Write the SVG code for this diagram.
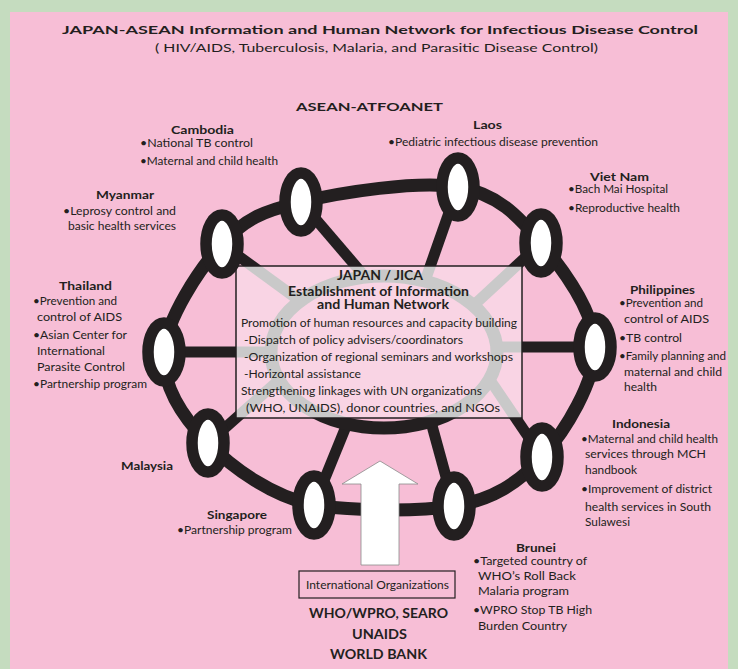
<svg xmlns="http://www.w3.org/2000/svg" xmlns:xlink="http://www.w3.org/1999/xlink" width="738" height="669" viewBox="0 0 738 669">
  <style>
    .t { font-family: Lato, "Liberation Sans", sans-serif; font-size: 12px; fill: #231f20; }
    .b { font-weight: bold; }
    .h { font-size: 13px; }
    .ring { fill: none; stroke: #231f20; stroke-width: 13; stroke-linejoin: round; }
    .spk { fill: none; stroke-width: 11; }
    .hub { fill: none; stroke-width: 13; }
    .node { fill: #ffffff; stroke: #231f20; stroke-width: 11.5; }
  </style>
  <defs>
    <clipPath id="boxClip">
      <rect x="236" y="266" width="286" height="152"/>
    </clipPath>
  </defs>

  <!-- page background -->
  <rect x="0" y="0" width="738" height="669" fill="#c5dcbf"/>
  <rect x="10" y="12" width="718" height="657" fill="#f7bed6"/>

  <!-- headings -->
  <g id="heading">
    <text class="t b" x="62" y="34" font-size="17" textLength="636" lengthAdjust="spacingAndGlyphs">JAPAN-ASEAN Information and Human Network for Infectious Disease Control</text>
    <text class="t" x="155" y="52" font-size="15" textLength="443" lengthAdjust="spacingAndGlyphs">( HIV/AIDS, Tuberculosis, Malaria, and Parasitic Disease Control)</text>
    <text class="t b" x="296" y="111" font-size="19" textLength="147" lengthAdjust="spacingAndGlyphs">ASEAN-ATFOANET</text>
  </g>

  <!-- network ring, spokes and inner hub -->
  <g id="connectors">
    <path class="ring" d="M164,352 C166.3,318.8 199.2,269 222,244 C244.8,219 261.7,211.5 301,202 C340.3,192.5 418,180.2 458,187 C498,193.8 518.2,215.8 541,243 C563.8,270.2 594.8,312 595,347 C595.2,382 565.5,430.7 542,457 C518.5,483.3 492,500 454,506 C416,512 355,511 314,505 C273,497 233,468.5 208,443 C183,417.5 161.7,385.2 164,352 Z"/>
    <g stroke="#231f20">
      <g id="hubLines">
        <line class="spk" x1="164" y1="352" x2="272" y2="352"/>
        <line class="spk" x1="222" y1="244" x2="300" y2="301"/>
        <line class="spk" x1="301" y1="202" x2="366" y2="278"/>
        <line class="spk" x1="458" y1="187" x2="425" y2="281"/>
        <line class="spk" x1="541" y1="243" x2="474" y2="305"/>
        <line class="spk" x1="595" y1="347" x2="497" y2="347"/>
        <line class="spk" x1="542" y1="457" x2="490" y2="380"/>
        <line class="spk" x1="454" y1="506" x2="431" y2="422"/>
        <line class="spk" x1="314" y1="505" x2="347" y2="424"/>
        <line class="spk" x1="208" y1="443" x2="279" y2="380"/>
        <ellipse class="hub" cx="384" cy="352" rx="113" ry="76"/>
      </g>
    </g>
  </g>

  <!-- central JAPAN / JICA box -->
  <g id="jica">
    <rect x="236" y="266" width="286" height="152" fill="#f9d4e4"/>
    <g clip-path="url(#boxClip)" stroke="#c9c9c9">
      <use xlink:href="#hubLines" href="#hubLines"/>
    </g>
    <rect x="236" y="266" width="286" height="152" fill="none" stroke="#231f20" stroke-width="1.5"/>
    <text class="t b h" x="337" y="280" textLength="86" lengthAdjust="spacingAndGlyphs">JAPAN / JICA</text>
    <text class="t b h" x="288" y="296" textLength="181" lengthAdjust="spacingAndGlyphs">Establishment of Information</text>
    <text class="t b h" x="317" y="309" textLength="132" lengthAdjust="spacingAndGlyphs">and Human Network</text>
    <text class="t" x="241" y="327" textLength="276" lengthAdjust="spacingAndGlyphs">Promotion of human resources and capacity building</text>
    <text class="t" x="244" y="344" textLength="219" lengthAdjust="spacingAndGlyphs">-Dispatch of policy advisers/coordinators</text>
    <text class="t" x="244" y="361" textLength="269" lengthAdjust="spacingAndGlyphs">-Organization of regional seminars and workshops</text>
    <text class="t" x="244" y="378" textLength="117" lengthAdjust="spacingAndGlyphs">-Horizontal assistance</text>
    <text class="t" x="241" y="395" textLength="241" lengthAdjust="spacingAndGlyphs">Strengthening linkages with UN organizations</text>
    <text class="t" x="246" y="412" textLength="254" lengthAdjust="spacingAndGlyphs">(WHO, UNAIDS), donor countries, and NGOs</text>
  </g>

  <!-- member countries -->
  <g id="thailand">
    <ellipse class="node" cx="164" cy="352" rx="16" ry="29"/>
    <text class="t b" x="59" y="290" textLength="53" lengthAdjust="spacingAndGlyphs">Thailand</text>
    <text class="t" x="33" y="305" textLength="84" lengthAdjust="spacingAndGlyphs">•Prevention and</text>
    <text class="t" x="37" y="321" textLength="85" lengthAdjust="spacingAndGlyphs">control of AIDS</text>
    <text class="t" x="33" y="339" textLength="94" lengthAdjust="spacingAndGlyphs">•Asian Center for</text>
    <text class="t" x="37" y="355" textLength="68" lengthAdjust="spacingAndGlyphs">International</text>
    <text class="t" x="37" y="371" textLength="88" lengthAdjust="spacingAndGlyphs">Parasite Control</text>
    <text class="t" x="33" y="388" textLength="114" lengthAdjust="spacingAndGlyphs">•Partnership program</text>
  </g>
  <g id="myanmar">
    <ellipse class="node" cx="222" cy="244" rx="16" ry="29"/>
    <text class="t b" x="96" y="199" textLength="58" lengthAdjust="spacingAndGlyphs">Myanmar</text>
    <text class="t" x="63" y="215" textLength="113" lengthAdjust="spacingAndGlyphs">•Leprosy control and</text>
    <text class="t" x="68" y="230" textLength="108" lengthAdjust="spacingAndGlyphs">basic health services</text>
  </g>
  <g id="cambodia">
    <ellipse class="node" cx="301" cy="202" rx="16" ry="29"/>
    <text class="t b" x="171" y="134" textLength="63" lengthAdjust="spacingAndGlyphs">Cambodia</text>
    <text class="t" x="140" y="147" textLength="113" lengthAdjust="spacingAndGlyphs">•National TB control</text>
    <text class="t" x="140" y="165" textLength="138" lengthAdjust="spacingAndGlyphs">•Maternal and child health</text>
  </g>
  <g id="laos">
    <ellipse class="node" cx="458" cy="187" rx="16" ry="29"/>
    <text class="t b" x="473" y="129" textLength="29" lengthAdjust="spacingAndGlyphs">Laos</text>
    <text class="t" x="388" y="146" textLength="210" lengthAdjust="spacingAndGlyphs">•Pediatric infectious disease prevention</text>
  </g>
  <g id="vietnam">
    <ellipse class="node" cx="541" cy="243" rx="16" ry="29"/>
    <text class="t b" x="590" y="181" textLength="59" lengthAdjust="spacingAndGlyphs">Viet Nam</text>
    <text class="t" x="568" y="193" textLength="100" lengthAdjust="spacingAndGlyphs">•Bach Mai Hospital</text>
    <text class="t" x="568" y="212" textLength="112" lengthAdjust="spacingAndGlyphs">•Reproductive health</text>
  </g>
  <g id="philippines">
    <ellipse class="node" cx="595" cy="347" rx="16" ry="29"/>
    <text class="t b" x="630" y="294" textLength="65" lengthAdjust="spacingAndGlyphs">Philippines</text>
    <text class="t" x="619" y="307" textLength="84" lengthAdjust="spacingAndGlyphs">•Prevention and</text>
    <text class="t" x="624" y="323" textLength="85" lengthAdjust="spacingAndGlyphs">control of AIDS</text>
    <text class="t" x="619" y="342" textLength="63" lengthAdjust="spacingAndGlyphs">•TB control</text>
    <text class="t" x="619" y="360" textLength="107" lengthAdjust="spacingAndGlyphs">•Family planning and</text>
    <text class="t" x="624" y="376" textLength="98" lengthAdjust="spacingAndGlyphs">maternal and child</text>
    <text class="t" x="624" y="391" textLength="33" lengthAdjust="spacingAndGlyphs">health</text>
  </g>
  <g id="indonesia">
    <ellipse class="node" cx="542" cy="457" rx="16" ry="29"/>
    <text class="t b" x="612" y="428" textLength="58" lengthAdjust="spacingAndGlyphs">Indonesia</text>
    <text class="t" x="581" y="443" textLength="137" lengthAdjust="spacingAndGlyphs">•Maternal and child health</text>
    <text class="t" x="585" y="458" textLength="121" lengthAdjust="spacingAndGlyphs">services through MCH</text>
    <text class="t" x="585" y="474" textLength="52" lengthAdjust="spacingAndGlyphs">handbook</text>
    <text class="t" x="581" y="493" textLength="131" lengthAdjust="spacingAndGlyphs">•Improvement of district</text>
    <text class="t" x="585" y="511" textLength="126" lengthAdjust="spacingAndGlyphs">health services in South</text>
    <text class="t" x="585" y="526" textLength="45" lengthAdjust="spacingAndGlyphs">Sulawesi</text>
  </g>
  <g id="brunei">
    <ellipse class="node" cx="454" cy="506" rx="16" ry="29"/>
    <text class="t b" x="516" y="552" textLength="40" lengthAdjust="spacingAndGlyphs">Brunei</text>
    <text class="t" x="473" y="565" textLength="114" lengthAdjust="spacingAndGlyphs">•Targeted country of</text>
    <text class="t" x="478" y="580" textLength="98" lengthAdjust="spacingAndGlyphs">WHO’s Roll Back</text>
    <text class="t" x="478" y="595" textLength="91" lengthAdjust="spacingAndGlyphs">Malaria program</text>
    <text class="t" x="473" y="614" textLength="119" lengthAdjust="spacingAndGlyphs">•WPRO Stop TB High</text>
    <text class="t" x="478" y="630" textLength="89" lengthAdjust="spacingAndGlyphs">Burden Country</text>
  </g>
  <g id="singapore">
    <ellipse class="node" cx="314" cy="505" rx="16" ry="29"/>
    <text class="t b" x="207" y="519" textLength="60" lengthAdjust="spacingAndGlyphs">Singapore</text>
    <text class="t" x="177" y="534" textLength="115" lengthAdjust="spacingAndGlyphs">•Partnership program</text>
  </g>
  <g id="malaysia">
    <ellipse class="node" cx="208" cy="443" rx="16" ry="29"/>
    <text class="t b" x="121" y="470" textLength="52" lengthAdjust="spacingAndGlyphs">Malaysia</text>
  </g>

  <!-- international organizations feeding in -->
  <g id="international">
    <path d="M380,461 L418,484 L399,484 L399,565 L361,565 L361,484 L342,484 Z" fill="#ffffff" stroke="#8a8a8a" stroke-width="0.8"/>
    <rect x="299" y="571" width="156" height="27" fill="none" stroke="#231f20" stroke-width="1.2"/>
    <text class="t" x="306" y="589" textLength="143" lengthAdjust="spacingAndGlyphs">International Organizations</text>
    <text class="t b h" x="309" y="618" textLength="139" lengthAdjust="spacingAndGlyphs">WHO/WPRO, SEARO</text>
    <text class="t b h" x="352" y="639" textLength="55" lengthAdjust="spacingAndGlyphs">UNAIDS</text>
    <text class="t b h" x="330" y="659" textLength="97" lengthAdjust="spacingAndGlyphs">WORLD BANK</text>
  </g>
</svg>
